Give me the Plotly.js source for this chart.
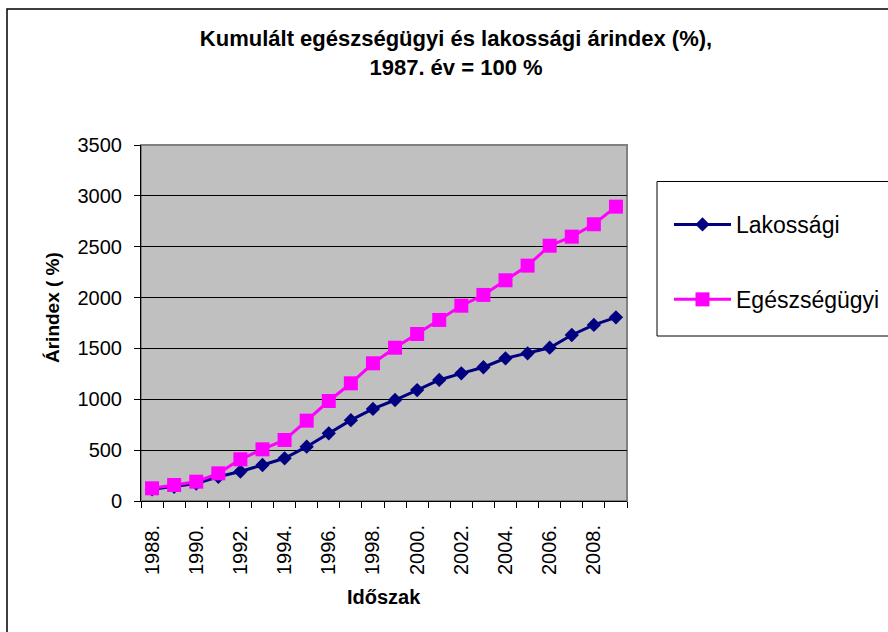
<!DOCTYPE html>
<html>
<head>
<meta charset="utf-8">
<script src="https://cdn.plot.ly/plotly-3.0.1.min.js"></script>
<style>
html,body{margin:0;padding:0;background:#fff;}
#chart{width:888px;height:632px;}
</style>
</head>
<body>
<div id="chart"></div>
<script>
// ---- data ----
const years = [1988,1989,1990,1991,1992,1993,1994,1995,1996,1997,1998,1999,2000,2001,2002,2003,2004,2005,2006,2007,2008,2009];
const lakossagi = [115,140,172,238,290,354,420,534,665,795,905,993,1091,1190,1255,1315,1403,1452,1507,1632,1731,1806];
const egeszsegugyi = [125,157,190,272,410,508,600,790,983,1157,1354,1507,1642,1780,1920,2026,2170,2314,2510,2599,2721,2894];
const tickYears = [1988,1990,1992,1994,1996,1998,2000,2002,2004,2006,2008];
const tickLabels = ["1988.","1990.","1992.","1994.","1996.","1998.","2000.","2002.","2004.","2006.","2008."];
const seriesNames = ["Lakossági","Egészségügyi"];
const titleText = "Kumulált egészségügyi és lakossági árindex (%),<br>1987. év = 100 %";
const yTitle = "Árindex ( %)";
const xTitle = "Időszak";

const FONT = "Liberation Sans, Arial, sans-serif";

const traces = [
  {
    x: years, y: lakossagi, name: seriesNames[0], legendgroup: "a",
    type: "scatter", mode: "lines+markers",
    line: {color: "#000080", width: 3},
    marker: {symbol: "diamond", size: 11, color: "#000080"}
  },
  {
    x: years, y: egeszsegugyi, name: seriesNames[1], legendgroup: "b",
    type: "scatter", mode: "lines+markers",
    line: {color: "#FF00FF", width: 3},
    marker: {symbol: "square", size: 14, color: "#FF00FF"}
  }
];

const layout = {
  width: 888, height: 632,
  paper_bgcolor: "#ffffff",
  plot_bgcolor: "#C0C0C0",
  margin: {l: 141, r: 261, t: 145, b: 131, pad: 0, autoexpand: false},
  font: {family: FONT, color: "#000000"},
  title: {
    text: titleText,
    font: {family: FONT, size: 22, color: "#000000", weight: "bold"},
    x: 456/888, xref: "container", xanchor: "center",
    y: 1 - 46/632, yref: "container", yanchor: "top"
  },
  xaxis: {
    range: [1987.5, 2009.5],
    tickvals: tickYears, ticktext: tickLabels,
    tickangle: -90,
    ticks: "", showgrid: false, zeroline: false,
    showline: true, linecolor: "#000000", linewidth: 1,
    tickfont: {family: FONT, size: 20, color: "#000000"},
    ticklabelstandoff: 15,
    minor: {tick0: 1987.5, dtick: 1, ticks: "outside", ticklen: 6, tickcolor: "#000000", tickwidth: 1, showgrid: false},
    fixedrange: true
  },
  yaxis: {
    range: [0, 3500], dtick: 500, tick0: 0,
    ticks: "outside", ticklen: 6, tickcolor: "#000000", tickwidth: 1,
    showgrid: true, gridcolor: "#000000", gridwidth: 1,
    zeroline: false,
    showline: true, linecolor: "#000000", linewidth: 1,
    tickfont: {family: FONT, size: 20, color: "#000000"},
    ticklabelstandoff: 8,
    fixedrange: true
  },
  showlegend: true,
  legend: {
    x: (669-141)/486, xanchor: "left",
    y: (501-203)/356, yanchor: "top",
    bgcolor: "rgba(0,0,0,0)", borderwidth: 0,
    font: {family: FONT, size: 23, color: "#000000"},
    itemwidth: 57,
    traceorder: "grouped", tracegroupgap: 42
  },
  annotations: [
    {
      text: yTitle, xref: "paper", yref: "paper",
      x: (52-141)/486, y: (501-308)/356, xanchor: "center", yanchor: "middle",
      textangle: -90, showarrow: false,
      font: {family: FONT, size: 19, color: "#000000", weight: "bold"}
    },
    {
      text: xTitle, xref: "paper", yref: "paper",
      x: 0.5, y: (501-597)/356, xanchor: "center", yanchor: "middle",
      showarrow: false,
      font: {family: FONT, size: 20, color: "#000000", weight: "bold"}
    }
  ],
  shapes: [
    // outer chart border
    {type: "rect", xref: "paper", yref: "paper",
     x0: (7-141)/486, x1: (900-141)/486, y0: (501-645)/356, y1: (501-9)/356,
     line: {color: "#000000", width: 1.5}, fillcolor: "rgba(0,0,0,0)", layer: "below"},
    // plot area border (top/right gray)
    {type: "rect", xref: "paper", yref: "paper", x0: 0, x1: 1, y0: 0, y1: 1,
     line: {color: "#808080", width: 2}, fillcolor: "rgba(0,0,0,0)", layer: "below"},
    // legend box
    {type: "rect", xref: "paper", yref: "paper",
     x0: (657-141)/486, x1: (900-141)/486, y0: (501-336)/356, y1: (501-181.5)/356,
     line: {color: "#000000", width: 1}, fillcolor: "#ffffff", layer: "below"}
  ]
};

Plotly.newPlot("chart", traces, layout, {displayModeBar: false, staticPlot: true});
</script>
</body>
</html>
